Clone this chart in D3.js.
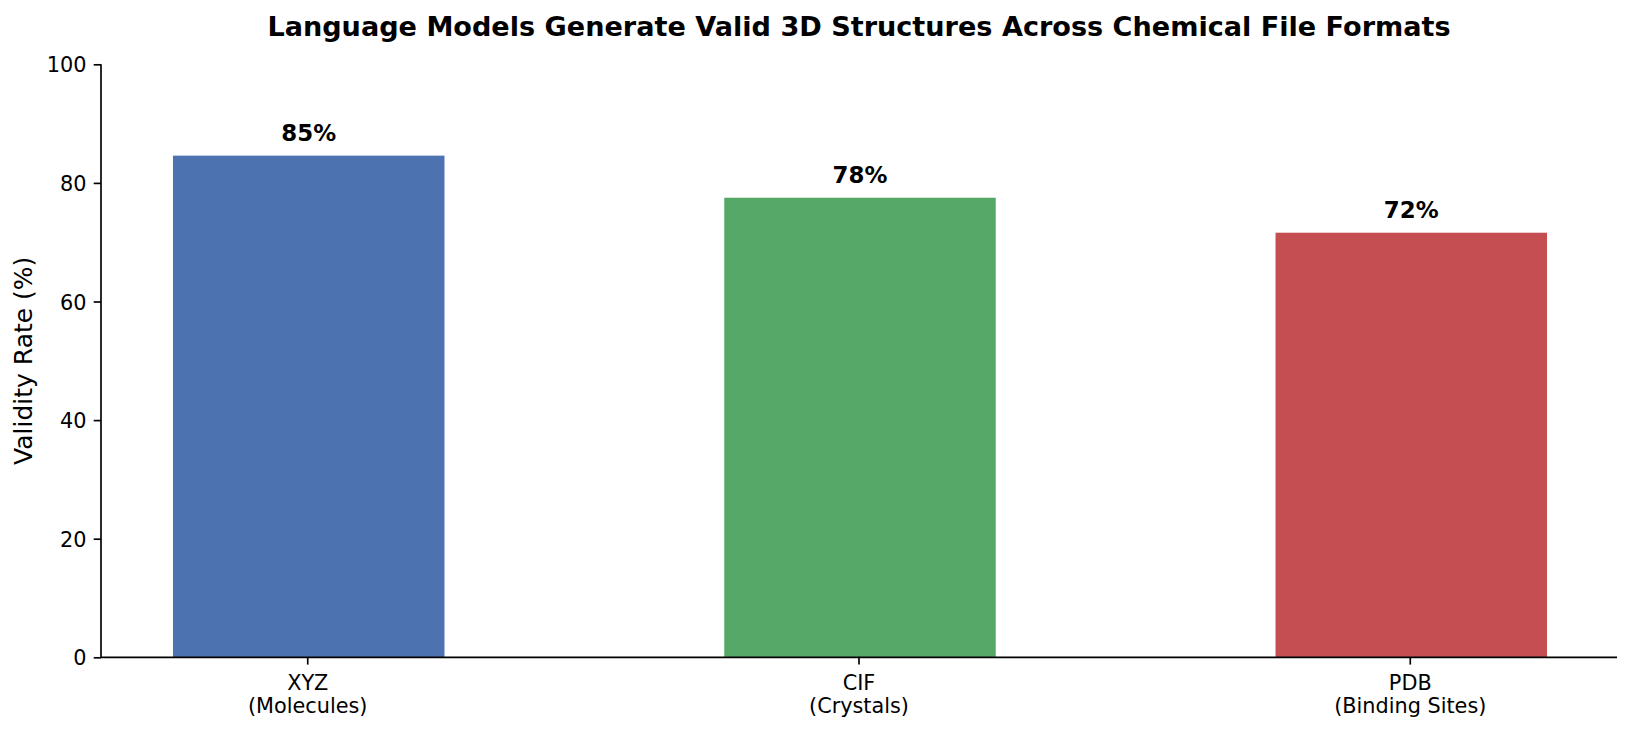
<!DOCTYPE html>
<html>
<head>
<meta charset="utf-8">
<script src="https://cdn.jsdelivr.net/npm/d3@7"></script>
<style>
  html, body { margin: 0; padding: 0; background: #fff; }
  svg { display: block; font-family: "DejaVu Sans", sans-serif; }
</style>
</head>
<body>
<svg id="chart" width="1632" height="731"></svg>
<script>
// ---- data ----
const categories = ["XYZ", "CIF", "PDB"];
const subLabels = ["(Molecules)", "(Crystals)", "(Binding Sites)"];
const validity = [84.6, 77.5, 71.6];
const barColors = ["#4C72B0", "#55A868", "#C44E52"];
const yTicks = [0, 20, 40, 60, 80, 100];
const titleText = "Language Models Generate Valid 3D Structures Across Chemical File Formats";
const yLabelText = "Validity Rate (%)";

(function () {
// ---- layout ----
const mLeft = 101, mRight = 1617, mTop = 64.3, mBottom = 657.3;
const svg = d3.select("#chart");

const x = d3.scaleBand()
  .domain(categories)
  .range([mLeft, mRight])
  .paddingInner(0.5)
  .paddingOuter(0.125);

const y = d3.scaleLinear().domain([0, 100]).range([mBottom, mTop]);
const barW = x.bandwidth() * 0.985;

// bars
svg.append("g").selectAll("rect")
  .data(categories)
  .join("rect")
  .attr("x", d => x(d) + (x.bandwidth() - barW) / 2 + 1)
  .attr("width", barW)
  .attr("y", (d, i) => y(validity[i]))
  .attr("height", (d, i) => y(0) - y(validity[i]))
  .attr("fill", (d, i) => barColors[i]);

// value labels
svg.append("g").selectAll("text")
  .data(categories)
  .join("text")
  .attr("x", d => x(d) + x.bandwidth() / 2 + 1)
  .attr("y", (d, i) => y(validity[i]) - 15)
  .attr("text-anchor", "middle")
  .attr("font-size", "22.9px")
  .attr("font-weight", "bold")
  .attr("fill", "#000")
  .text((d, i) => Math.round(validity[i]) + "%");

// y axis
const yAxis = d3.axisLeft(y).tickValues(yTicks).tickSize(7.3).tickPadding(7.3);
const gy = svg.append("g").attr("transform", `translate(${mLeft},0)`).call(yAxis);
gy.select(".domain").attr("stroke", "#000").attr("stroke-width", 1.67)
  .attr("d", `M0,${mBottom}V${mTop}`);
gy.selectAll(".tick line").attr("stroke", "#000").attr("stroke-width", 1.67);
gy.selectAll(".tick text")
  .attr("font-size", "20.8px")
  .attr("font-family", "DejaVu Sans, sans-serif")
  .attr("fill", "#000")
  .attr("dy", "0.36em");

// x axis
const xAxis = d3.axisBottom(x).tickSize(7.3).tickFormat("").offset(1);
const gx = svg.append("g").attr("transform", `translate(0,${mBottom})`).call(xAxis);
gx.select(".domain").attr("stroke", "#000").attr("stroke-width", 1.67)
  .attr("d", `M${mLeft},0H${mRight}`);
gx.selectAll(".tick line").attr("stroke", "#000").attr("stroke-width", 1.67);
gx.selectAll(".tick").each(function(d, i) {
  const t = d3.select(this).append("text")
    .attr("text-anchor", "middle")
    .attr("font-size", "20.8px")
    .attr("font-family", "DejaVu Sans, sans-serif")
    .attr("fill", "#000");
  t.append("tspan").attr("x", 0).attr("y", 33).text(categories[i]);
  t.append("tspan").attr("x", 0).attr("y", 55.5).text(subLabels[i]);
});

// y label
svg.append("text")
  .attr("transform", `translate(32,${(mTop + mBottom) / 2}) rotate(-90)`)
  .attr("text-anchor", "middle")
  .attr("font-size", "25px")
  .attr("fill", "#000")
  .text(yLabelText);

// title
svg.append("text")
  .attr("x", (mLeft + mRight) / 2)
  .attr("y", 36)
  .attr("text-anchor", "middle")
  .attr("font-size", "27.1px")
  .attr("font-weight", "bold")
  .attr("fill", "#000")
  .text(titleText);
})();
</script>
</body>
</html>
